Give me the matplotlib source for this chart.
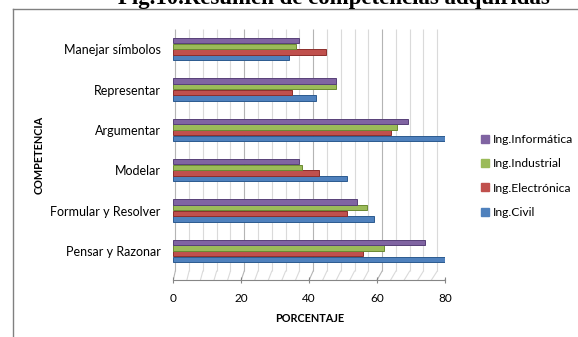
import matplotlib
matplotlib.use("Agg")
import matplotlib.pyplot as plt
import matplotlib.transforms as mtransforms
from matplotlib.lines import Line2D
import numpy as np

# Competencias (de abajo hacia arriba) y porcentaje por carrera
competencias = ["Pensar y Razonar", "Formular y Resolver", "Modelar",
                "Argumentar", "Representar", "Manejar símbolos"]
civil = [80, 59, 51, 80, 42, 34]
electronica = [56, 51, 43, 64, 35, 45]
industrial = [62, 57, 38, 66, 48, 36]
informatica = [74, 54, 37, 69, 48, 37]

series = [
    ("Ing.Civil", civil, "#4F81BD", "#2C5A8F"),
    ("Ing.Electrónica", electronica, "#C0504D", "#8C2E2B"),
    ("Ing.Industrial", industrial, "#9BBB59", "#6A8A32"),
    ("Ing.Informática", informatica, "#8064A2", "#574078"),
]
x_ticks = [0, 20, 40, 60, 80]

plt.rcParams["font.family"] = ["Lato", "DejaVu Sans"]

W, H = 578, 337
fig = plt.figure(figsize=(W / 100, H / 100), dpi=100)
ax = fig.add_axes([173.3 / W, (H - 280) / H, (445 - 173.3) / W, (280 - 29) / H])

floor = 0.22
ax.set_xlim(0, 80)
ax.set_ylim(-0.5 - floor, 5.5)

# back wall grid (slight perspective shift) and floor diagonals
def shift_tf(px):
    return ax.transData + mtransforms.ScaledTranslation(px / 100, 0, fig.dpi_scale_trans)

inv = ax.transData.inverted()
for v in range(0, 81, 4):
    px = 2 + 4 * v / 80
    col = "#B4B4B4" if v % 20 == 0 else "#DADADA"
    ax.plot([v, v], [-0.5, 5.5], color=col, lw=0.8, transform=shift_tf(px),
            zorder=0.5, solid_capstyle="butt")
    # floor diagonal from back wall down to the front axis
    a = inv.transform(shift_tf(px).transform((v, -0.5)))
    b = inv.transform(ax.transData.transform((v, -0.5 - floor)))
    ax.plot([a[0], b[0]], [a[1], b[1]], color=col, lw=0.8, zorder=0.5)

# bars
y = np.arange(len(competencias))
pitch = 0.141
h = 0.132
for i, (name, vals, fc, ec) in enumerate(series):
    offs = (i - 1.5) * pitch
    ax.barh(y + offs, vals, height=h, color=fc, edgecolor=ec, linewidth=0.7,
            label=name, zorder=3)

for s in ["top", "right", "left"]:
    ax.spines[s].set_visible(False)
ax.spines["bottom"].set_color("#868686")
ax.spines["bottom"].set_linewidth(0.8)

ax.set_xticks(x_ticks)
ax.set_xticklabels([str(t) for t in x_ticks])
ax.tick_params(axis="x", length=4, width=0.8, color="#868686", labelsize=8.5, pad=7,
               direction="inout")
ax.set_yticks(y)
ax.set_yticklabels(competencias)
ax.tick_params(axis="y", length=0, labelsize=9, pad=9)

fig.text(310 / W, 1 - 318 / H, "PORCENTAJE", ha="center", va="center",
         fontsize=7.8, fontweight="bold")
fig.text(39 / W, 1 - 155 / H, "COMPETENCIA", ha="center", va="center",
         rotation=90, fontsize=7.8, fontweight="bold")

# legend
handles = [Line2D([0], [0], marker="s", ls="none", markersize=5.5,
                  markerfacecolor=fc, markeredgecolor=fc, label=name)
           for name, _, fc, _ in series][::-1]
fig.legend(handles=handles, loc="upper left",
           bbox_to_anchor=(475.5 / W, 1 - 128 / H), frameon=False,
           fontsize=8.7, handlelength=0.6, handletextpad=0.35,
           labelspacing=1.1, borderpad=0)

# frame of the figure box
fig.add_artist(Line2D([13 / W, 13 / W], [0, 1 - 8.5 / H], color="#808080", lw=1))
fig.add_artist(Line2D([13 / W, 1], [1 - 8.5 / H, 1 - 8.5 / H], color="#808080", lw=1))

# figure caption above the box
fig.text(334 / W, 1 - 4 / H, "Fig.10.Resumen de competencias adquiridas",
         ha="center", va="baseline", fontsize=16.5, fontweight="bold",
         family=["Liberation Serif", "DejaVu Serif"])

fig.savefig("out.png", dpi=100)
